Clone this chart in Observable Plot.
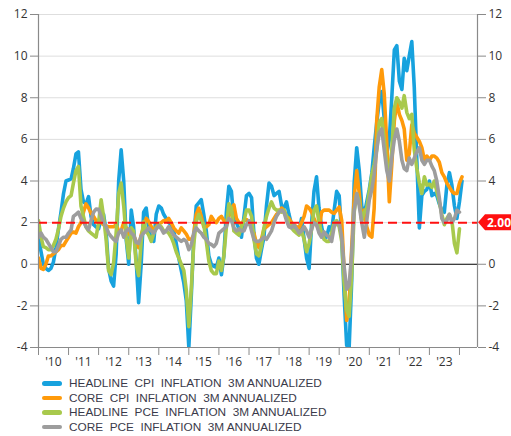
<!DOCTYPE html>
<html><head><meta charset="utf-8">
<script src="https://cdn.jsdelivr.net/npm/d3@7"></script>
<script src="https://cdn.jsdelivr.net/npm/@observablehq/plot@0.6"></script>
<style>
body{margin:0;background:#fff;}
#chart{position:relative;width:511px;font-family:"Open Sans",sans-serif;}
.legend{margin-left:42px;margin-top:4px;}
.row{display:flex;align-items:center;height:14.5px;line-height:14px;font-family:"Liberation Sans",Arial,sans-serif;font-size:11.8px;color:#3a3a4a;white-space:pre;}
.sw{width:20px;height:4.5px;border-radius:2.5px;margin-right:7px;flex:none;}
</style></head><body><div id="chart"></div><script>
// Monthly values starting January 2010
const startYear = 2010;
const headlineCPI = [
 1.3,0.6,0.0,-0.2,-0.3,-0.2,0.1,0.8,1.7,2.5,3.4,4.0,
 4.05,4.1,4.6,5.3,5.4,3.6,3.0,2.9,3.25,2.3,1.9,1.8,
 1.7,2.2,2.4,1.6,-0.2,-0.8,-1.05,0.5,4.0,5.5,4.0,1.2,
 0.0,2.6,1.8,0.2,-1.85,0.0,2.5,2.7,1.7,1.2,1.1,2.4,
 2.8,2.7,2.4,2.2,2.0,1.9,1.6,1.0,0.3,-0.3,-0.9,-1.75,
 -4.0,-1.4,1.2,2.8,2.95,3.1,2.4,1.6,0.4,0.0,-0.1,-0.15,
 0.3,-0.5,0.4,2.5,3.75,3.5,2.1,2.0,1.7,1.3,2.3,3.3,
 3.4,3.2,1.5,0.3,0.0,0.7,1.3,2.8,3.9,3.75,3.3,3.4,
 3.5,2.8,2.7,3.0,2.4,1.9,1.8,1.75,1.6,2.2,1.2,0.3,
 -0.2,2.0,3.5,4.2,2.7,1.8,1.3,1.3,1.8,1.6,2.6,3.5,
 3.3,1.3,-1.5,-3.9,-4.0,-0.8,3.9,5.6,4.5,2.8,2.4,3.0,
 3.6,4.4,5.6,6.8,7.8,8.3,7.0,5.3,6.0,8.0,10.3,10.5,
 8.8,8.4,9.9,9.3,10.0,10.7,8.5,5.0,1.75,3.3,3.5,3.6,
 4.0,3.3,3.4,3.3,2.9,2.6,2.5,3.8,4.4,3.8,2.8,2.2,
 3.0,4.0];
const coreCPI = [
 0.3,-0.2,-0.25,0.0,0.4,0.4,0.5,0.6,0.7,0.9,0.9,1.1,
 1.3,1.5,1.55,1.5,1.8,2.0,2.5,2.9,2.7,2.45,2.3,2.1,
 2.1,2.0,1.9,1.85,1.8,1.8,1.8,1.9,1.6,1.6,2.0,1.75,
 1.5,1.3,1.4,1.1,0.8,1.4,1.8,2.2,2.05,1.8,1.6,1.8,
 1.95,2.0,2.1,2.1,2.2,2.0,1.75,1.6,1.5,1.75,1.6,1.45,
 1.2,1.2,1.4,2.4,2.7,2.3,1.8,1.8,1.9,2.3,2.1,2.0,
 2.2,2.3,2.1,2.0,2.3,2.6,2.85,2.2,2.0,1.95,2.1,2.15,
 2.0,1.75,1.5,1.0,0.8,1.2,1.7,1.8,1.9,2.0,2.2,2.4,
 2.5,2.7,2.6,2.3,2.2,2.0,1.9,1.8,1.75,2.0,2.3,2.8,
 2.7,2.5,2.2,1.9,1.65,2.5,2.6,2.6,2.6,2.5,2.45,2.6,
 2.75,2.1,-0.3,-2.7,-2.0,0.8,3.2,4.5,3.4,2.1,2.6,1.8,
 1.4,1.3,2.7,6.9,8.5,9.35,8.2,5.8,3.0,4.8,6.9,7.8,
 7.2,6.9,6.5,5.0,5.3,6.7,6.3,6.1,5.9,5.6,5.0,5.2,
 5.0,5.2,5.2,5.1,4.9,4.4,4.2,3.9,3.7,3.5,3.4,3.4,
 3.9,4.2];
const headlinePCE = [
 2.1,1.3,0.85,0.8,0.7,0.7,0.9,1.2,1.7,2.3,2.7,3.0,
 3.2,3.3,3.9,4.5,4.7,2.8,2.3,1.8,1.6,1.5,1.4,1.3,
 2.0,3.1,2.3,1.2,-0.3,-0.5,0.05,1.5,3.4,3.9,2.8,1.3,
 0.3,1.75,1.6,0.0,-0.55,1.1,2.05,1.6,1.4,1.1,1.5,1.75,
 1.9,1.8,1.6,1.6,1.5,1.3,1.0,0.6,0.3,0.0,-0.3,-1.25,
 -3.0,-1.1,0.95,2.05,2.4,2.1,1.9,1.1,0.15,-0.3,-0.45,-0.45,
 0.15,-0.3,0.4,1.8,2.9,2.7,1.6,1.5,1.4,1.8,2.1,2.6,
 2.6,2.3,1.2,0.5,0.4,0.9,1.75,2.3,2.7,3.0,2.7,2.6,
 2.6,2.5,2.6,2.3,2.0,1.75,1.6,1.5,1.4,1.6,1.2,0.6,
 1.0,1.7,2.6,2.8,2.0,1.5,1.2,1.1,1.1,1.5,2.0,2.1,
 1.8,1.1,-0.9,-2.2,-2.5,-0.5,2.5,3.4,3.0,2.1,2.5,2.7,
 3.5,4.3,4.8,5.5,6.8,7.0,6.0,4.8,4.3,5.5,7.5,8.0,
 7.8,7.5,8.1,7.3,7.0,7.2,5.5,4.6,3.9,3.4,4.2,3.8,
 3.85,3.7,4.0,3.5,3.0,2.4,1.9,2.2,2.4,2.1,1.0,0.55,
 1.7];
const corePCE = [
 1.3,1.5,1.3,1.2,1.0,0.8,0.6,0.6,0.9,1.2,1.3,1.3,
 1.5,1.65,2.3,2.4,2.5,2.2,2.05,1.8,1.65,2.1,2.5,2.65,
 2.64,2.3,2.0,1.8,1.5,1.33,1.2,1.1,1.5,1.65,1.3,1.6,
 1.7,1.5,1.4,1.05,1.0,1.35,1.5,1.6,1.75,1.6,1.5,1.7,
 1.85,1.7,1.5,1.6,1.8,1.6,1.4,1.3,1.2,1.1,1.2,1.1,
 0.7,0.95,1.5,1.75,1.6,1.5,1.3,1.2,1.0,0.95,0.85,1.0,
 1.5,1.6,1.7,1.8,2.2,2.1,1.75,1.6,1.7,1.6,1.6,1.9,
 2.1,1.6,1.2,1.1,1.1,1.2,1.3,1.2,1.4,1.6,2.0,2.3,
 2.5,2.6,2.5,2.1,1.8,1.75,1.9,1.7,1.5,1.6,1.8,1.6,
 1.3,1.7,2.0,1.9,1.5,1.3,1.55,1.4,1.3,1.1,1.8,2.0,
 2.0,1.3,-0.1,-1.2,-1.0,0.5,2.6,3.4,2.8,2.0,1.3,2.1,
 3.1,3.6,4.3,5.5,6.3,6.5,5.5,4.5,4.0,5.1,6.0,6.5,
 5.9,5.0,4.6,4.5,5.1,4.8,5.1,5.4,5.6,5.0,4.8,5.0,
 5.0,4.7,4.5,4.0,3.2,2.2,2.0,2.1,2.4,2.0,2.2,2.6,
 2.5];
const seriesNames = ["HEADLINE  CPI  INFLATION  3M ANNUALIZED","CORE  CPI  INFLATION  3M ANNUALIZED","HEADLINE  PCE  INFLATION  3M ANNUALIZED","CORE  PCE  INFLATION  3M ANNUALIZED"];
const seriesColors = ["#17a2de","#ff9a0a","#a8c94c","#9d9d9d"];
const yTicks = [-4,-2,0,2,4,6,8,10,12];
const yearLabels = ["'10","'11","'12","'13","'14","'15","'16","'17","'18","'19","'20","'21","'22","'23"];
const targetValue = 2;
const targetLabel = "2.00";

const seriesValues = [headlineCPI, coreCPI, headlinePCE, corePCE];
const data = seriesValues.flatMap((vals, k) => vals.map((v, i) => ({date: new Date(Date.UTC(startYear, i, 1)), value: v, k})));
const xDomain = [new Date(Date.UTC(2010,0,1)), new Date(Date.UTC(2024,7,7))];
const yearStarts = d3.range(2010, 2025).map(y => new Date(Date.UTC(y,0,1)));
const midYears = yearLabels.map((_, i) => new Date(Date.UTC(2010 + i, 6, 1)));
const fmtY = d => String(d);

const plot = Plot.plot({
  width: 511, height: 372,
  marginTop: 14, marginBottom: 25, marginLeft: 38, marginRight: 34,
  style: {fontFamily: "'Open Sans', sans-serif", fontSize: "12px", color: "#333", background: "#fff"},
  x: {type: "utc", domain: xDomain, label: null},
  y: {domain: [-4, 12], label: null},
  marks: [
    Plot.gridY(yTicks.filter(d => d !== 0 && d !== -4), {stroke: "#dedede", strokeOpacity: 1}),
    Plot.ruleY([0], {stroke: "#000", strokeWidth: 1.2}),
    ...seriesValues.map((_, k) => Plot.line(data.filter(d => d.k === k), {x: "date", y: "value", stroke: seriesColors[k], strokeWidth: 3.6, strokeLinejoin: "round", strokeLinecap: "round", clip: true})),
    Plot.ruleY([targetValue], {stroke: "#ff1010", strokeWidth: 2, strokeDasharray: "9,5"}),
    Plot.ruleX(xDomain, {stroke: "#8a8a8a", strokeWidth: 1.2}),
    Plot.ruleY([-4], {stroke: "#8a8a8a", strokeWidth: 1.2}),
    Plot.axisY(yTicks, {anchor: "left", label: null, tickSize: 8, tickPadding: 3, tickFormat: fmtY, stroke: "#8a8a8a", fill: "#333"}),
    Plot.axisY(yTicks.filter(d => d !== targetValue), {anchor: "right", label: null, tickSize: 8, tickPadding: 3, tickFormat: fmtY, stroke: "#8a8a8a", fill: "#333"}),
    Plot.axisX(yearStarts, {label: null, tickSize: 8, tickFormat: () => "", stroke: "#8a8a8a"}),
    Plot.axisX(midYears, {label: null, tickSize: 0, tickPadding: 10, tickFormat: (d, i) => yearLabels[i], fill: "#333"})
  ]
});

// target tag on the right (covers the right-axis label at the target level)
const yT = plot.scale("y").apply(targetValue);
const xE = plot.scale("x").apply(xDomain[1]);
const g = d3.select(plot).append("g");
g.append("path").attr("d", `M${xE + 1},${yT} L${xE + 8},${yT - 8} L${xE + 60},${yT - 8} L${xE + 60},${yT + 8} L${xE + 8},${yT + 8} Z`).attr("fill", "#ff1010");
g.append("text").attr("x", xE + 10).attr("y", yT + 4.5).attr("text-anchor", "start").attr("fill", "#fff").attr("font-weight", "bold").attr("font-size", 12).text(targetLabel);

const chart = document.getElementById("chart");
chart.appendChild(plot);
const legend = document.createElement("div");
legend.className = "legend";
seriesNames.forEach((name, k) => {
  const row = document.createElement("div");
  row.className = "row";
  const sw = document.createElement("span");
  sw.className = "sw"; sw.style.background = seriesColors[k];
  const t = document.createElement("span");
  t.textContent = name;
  row.appendChild(sw); row.appendChild(t);
  legend.appendChild(row);
});
chart.appendChild(legend);
</script></body></html>
